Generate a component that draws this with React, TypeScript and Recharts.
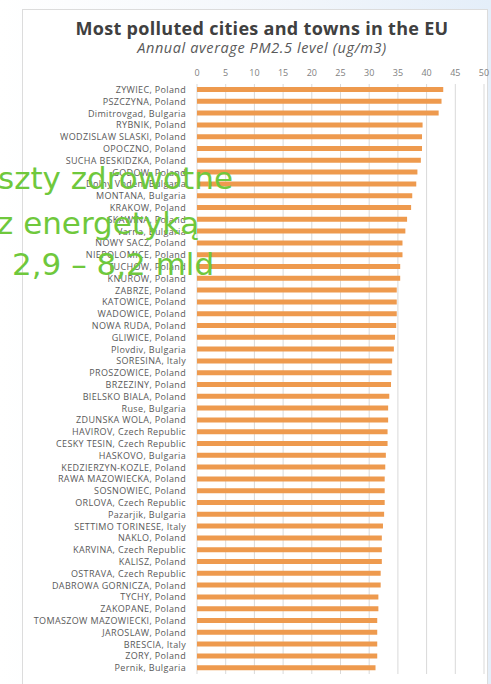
import { BarChart, Bar, XAxis, YAxis, CartesianGrid } from "recharts"

const cities = [
    "ZYWIEC, Poland",
    "PSZCZYNA, Poland",
    "Dimitrovgad, Bulgaria",
    "RYBNIK, Poland",
    "WODZISLAW SLASKI, Poland",
    "OPOCZNO, Poland",
    "SUCHA BESKIDZKA, Poland",
    "GODOW, Poland",
    "Dolny Voden, Bulgaria",
    "MONTANA, Bulgaria",
    "KRAKOW, Poland",
    "SKAWINA, Poland",
    "Varna, Bulgaria",
    "NOWY SACZ, Poland",
    "NIEPOLOMICE, Poland",
    "TUCHOW, Poland",
    "KNUROW, Poland",
    "ZABRZE, Poland",
    "KATOWICE, Poland",
    "WADOWICE, Poland",
    "NOWA RUDA, Poland",
    "GLIWICE, Poland",
    "Plovdiv, Bulgaria",
    "SORESINA, Italy",
    "PROSZOWICE, Poland",
    "BRZEZINY, Poland",
    "BIELSKO BIALA, Poland",
    "Ruse, Bulgaria",
    "ZDUNSKA WOLA, Poland",
    "HAVIROV, Czech Republic",
    "CESKY TESIN, Czech Republic",
    "HASKOVO, Bulgaria",
    "KEDZIERZYN-KOZLE, Poland",
    "RAWA MAZOWIECKA, Poland",
    "SOSNOWIEC, Poland",
    "ORLOVA, Czech Republic",
    "Pazarjik, Bulgaria",
    "SETTIMO TORINESE, Italy",
    "NAKLO, Poland",
    "KARVINA, Czech Republic",
    "KALISZ, Poland",
    "OSTRAVA, Czech Republic",
    "DABROWA GORNICZA, Poland",
    "TYCHY, Poland",
    "ZAKOPANE, Poland",
    "TOMASZOW MAZOWIECKI, Poland",
    "JAROSLAW, Poland",
    "BRESCIA, Italy",
    "ZORY, Poland",
    "Pernik, Bulgaria",
]

const pm25 = [
    42.9, 42.6, 42.1, 39.3, 39.2, 39.2, 39.0, 38.4, 38.2, 37.5,
    37.3, 36.6, 36.3, 35.8, 35.8, 35.4, 35.4, 34.8, 34.8, 34.8,
    34.7, 34.5, 34.3, 34.0, 33.9, 33.8, 33.5, 33.3, 33.3, 33.2,
    33.2, 32.9, 32.8, 32.7, 32.7, 32.7, 32.6, 32.4, 32.2, 32.2,
    32.2, 32.0, 32.0, 31.6, 31.6, 31.4, 31.4, 31.4, 31.4, 31.1,
]

const xTicks = [0, 5, 10, 15, 20, 25, 30, 35, 40, 45, 50]

const data = cities.map((name, i) => ({ name, value: pm25[i] }))

// one-line category label, right aligned next to the bars
const CityTick = (props: any) => {
    const { x, y, payload } = props
    return (
        <text x={x} y={y} dy={3} textAnchor="end" fontSize={9} fill="#595959" fontFamily="Open Sans" letterSpacing={0.35}>
            {payload.value}
        </text>
    )
}

export default function App() {
    return (
        <div style={{ position: "absolute", left: 0, top: 0, width: 491, height: 684, overflow: "hidden", background: "linear-gradient(to right, #ffffff 0%, #f2f6fb 60%, #e4eef9 100%)" }}>
            <div style={{ position: "absolute", left: 22, top: 9, width: 466, height: 690, background: "#fff", border: "1px solid #dcdcdc", boxSizing: "border-box" }} />
            <div style={{ position: "absolute", left: 0, top: 0 }}>
                <BarChart
                    width={491}
                    height={684}
                    data={data}
                    layout="vertical"
                    margin={{ top: 54, right: 7, bottom: 10, left: 0 }}
                >
                    <CartesianGrid horizontal={false} stroke="#d9d9d9" />
                    <XAxis
                        type="number"
                        orientation="top"
                        domain={[0, 50]}
                        ticks={xTicks}
                        axisLine={false}
                        tickLine={false}
                        height={30}
                        tick={{ fontSize: 9, fill: "#7f7f7f", fontFamily: "Open Sans" }}
                    />
                    <YAxis
                        type="category"
                        dataKey="name"
                        width={197}
                        interval={0}
                        axisLine={false}
                        tickLine={false}
                        tickMargin={5}
                        tick={<CityTick />}
                    />
                    <Bar dataKey="value" fill="#ee9a4e" barSize={5} isAnimationActive={false} />
                </BarChart>
            </div>
            <svg width={491} height={684} style={{ position: "absolute", left: 0, top: 0, pointerEvents: "none" }}>
                <text x={262} y={35} textAnchor="middle" fontFamily="Open Sans" fontWeight={700} fontSize={18} letterSpacing={0.3} fill="#404040">
                    Most polluted cities and towns in the EU
                </text>
                <text x={262} y={53} textAnchor="middle" fontFamily="Open Sans" fontStyle="italic" fontSize={14.5} letterSpacing={0.6} fill="#595959">
                    Annual average PM2.5 level (ug/m3)
                </text>
                <g fontFamily="DejaVu Sans" fontSize={31} fill="#6fc83c">
                    <text x={-2} y={189}>szty zdrowotne</text>
                    <text x={-3} y={234}>z energetyką</text>
                    <text x={12} y={275}>2,9 – 8,2 mld</text>
                </g>
            </svg>
        </div>
    )
}
